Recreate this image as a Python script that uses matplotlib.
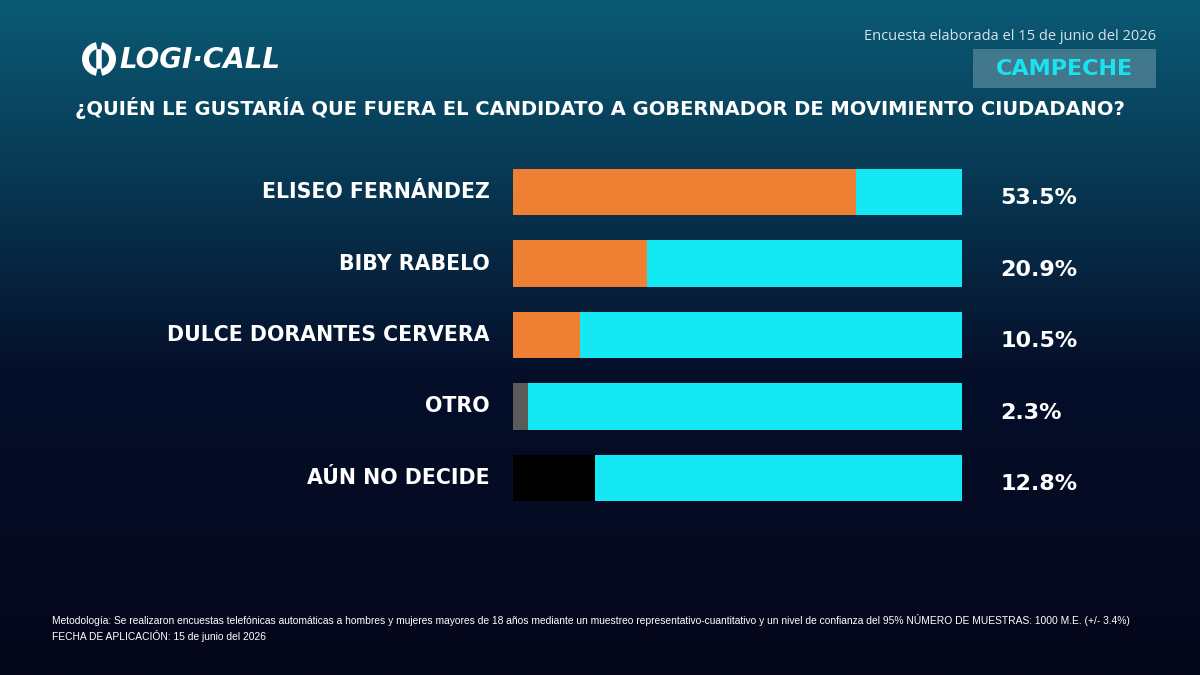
import numpy as np
import matplotlib
matplotlib.use("Agg")
import matplotlib.pyplot as plt
from matplotlib.patches import Rectangle, Arc
from matplotlib.colors import LinearSegmentedColormap

# datos
candidatos = ["ELISEO FERNÁNDEZ", "BIBY RABELO", "DULCE DORANTES CERVERA", "OTRO", "AÚN NO DECIDE"]
valores = [53.5, 20.9, 10.5, 2.3, 12.8]
colores = ["#ee7f33", "#ee7f33", "#ee7f33", "#5a5a5a", "#000000"]
escala_max = 70

titulo = "¿QUIÉN LE GUSTARÍA QUE FUERA EL CANDIDATO A GOBERNADOR DE MOVIMIENTO CIUDADANO?"
fecha = "Encuesta elaborada el 15 de junio del 2026"
estado = "CAMPECHE"
nota = ("Metodología: Se realizaron encuestas telefónicas automáticas a hombres y mujeres mayores de 18 años "
        "mediante un muestreo representativo-cuantitativo y un nivel de confianza del 95% NÚMERO DE MUESTRAS: "
        "1000 M.E. (+/- 3.4%)\nFECHA DE APLICACIÓN: 15 de junio del 2026")

W, H = 1200, 675
fig = plt.figure(figsize=(12, 6.75), dpi=100)

# fondo con degradado
bg = fig.add_axes([0, 0, 1, 1])
cmap = LinearSegmentedColormap.from_list("bg", [(0, "#0b5a74"), (0.25, "#083a55"), (0.55, "#050f2a"), (1, "#04061a")])
grad = np.linspace(0, 1, 256).reshape(-1, 1)
bg.imshow(grad, aspect="auto", cmap=cmap, extent=[0, W, H, 0])
bg.set_xlim(0, W)
bg.set_ylim(H, 0)
bg.axis("off")

fuente = ["DejaVu Sans"]

# logo
bg.add_patch(Arc((99, 59), 27, 27, theta1=100, theta2=260, lw=5, color="white"))
bg.add_patch(Arc((99, 59), 27, 27, theta1=280, theta2=80, lw=5, color="white"))
bg.plot([99, 99], [52, 66], color="white", lw=4)
bg.text(119, 60, "LOGI·CALL", color="white", fontsize=20, fontweight="heavy", style="italic",
        family=fuente, va="center", ha="left")

# encabezado derecho
bg.text(1156, 36, fecha, color="#d6e2e8", fontsize=10.5, family=["Open Sans", "DejaVu Sans"],
        ha="right", va="center")
bg.add_patch(Rectangle((973, 49), 183, 39, color="#4d8092", alpha=0.85, lw=0))
bg.text(1064.5, 69, estado, color="#19e3f2", fontsize=16, fontweight="bold", family=fuente,
        ha="center", va="center")

# titulo
bg.text(600, 108, titulo, color="white", fontsize=14, fontweight="bold", family=fuente,
        ha="center", va="center")

# nota
bg.text(52, 628, nota, color="white", fontsize=7.42, family=["Liberation Sans Narrow", "Liberation Sans"],
        ha="left", va="center", linespacing=1.35)

# barras
ax = fig.add_axes([513 / W, 1 - 513.75 / H, (962 - 513) / W, (513.75 - 156.25) / H])
ax.set_facecolor("none")
y = np.arange(len(candidatos))
ax.barh(y, [escala_max] * len(candidatos), height=0.645, color="#14e8f3", zorder=1)
ax.barh(y, valores, height=0.645, color=colores, zorder=2)
ax.set_xlim(0, escala_max)
ax.set_ylim(len(candidatos) - 0.5, -0.5)
ax.axis("off")

for i, (c, v) in enumerate(zip(candidatos, valores)):
    ax.text(-3.6, i, c, color="white", fontsize=14.8, fontweight="bold", family=fuente,
            ha="right", va="center")
    ax.text(76, i + 0.09, f"{v}%", color="white", fontsize=16, fontweight="bold", family=fuente,
            ha="left", va="center")

fig.savefig("out.png", dpi=100)
